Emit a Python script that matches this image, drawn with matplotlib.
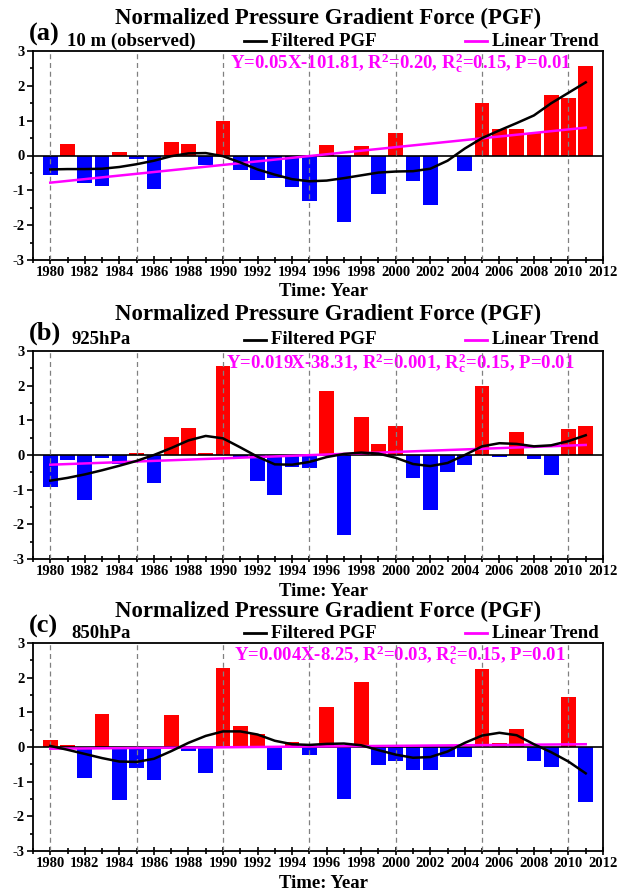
import matplotlib
matplotlib.use("Agg")
import matplotlib.pyplot as plt
from matplotlib.lines import Line2D
from matplotlib.ticker import MultipleLocator

plt.rcParams['font.family'] = 'Liberation Serif'
plt.rcParams['font.weight'] = 'bold'
plt.rcParams['axes.unicode_minus'] = False
plt.rcParams['mathtext.fontset'] = 'custom'
plt.rcParams['mathtext.rm'] = 'Liberation Serif:bold'
plt.rcParams['mathtext.it'] = 'Liberation Serif:bold'
plt.rcParams['mathtext.bf'] = 'Liberation Serif:bold'

years = list(range(1980, 2012))
trend_years = [1980, 2011]

# ---- (a) 10 m observed ----
pgf_10m = [-0.55, 0.33, -0.78, -0.88, 0.10, -0.09, -0.95, 0.38, 0.33, -0.26,
           0.99, -0.41, -0.70, -0.66, -0.90, -1.30, 0.31, -1.90, 0.28, -1.11,
           0.64, -0.74, -1.41, -0.02, -0.44, 1.50, 0.75, 0.77, 0.64, 1.73,
           1.66, 2.56]
filt_10m = [-0.40, -0.39, -0.39, -0.38, -0.33, -0.25, -0.15, -0.02, 0.06, 0.07,
            -0.02, -0.20, -0.40, -0.55, -0.68, -0.74, -0.72, -0.65, -0.57, -0.49,
            -0.46, -0.45, -0.38, -0.15, 0.20, 0.50, 0.72, 0.93, 1.15, 1.50,
            1.80, 2.10]
trend_10m = [-0.78, 0.80]
eq_10m = r"Y=0.05X-101.81, R$^{2}$=0.20, R$_{c}^{2}$=0.15, P=0.01"

# ---- (b) 925 hPa ----
pgf_925 = [-0.91, -0.15, -1.31, -0.09, -0.26, 0.06, -0.82, 0.52, 0.79, 0.06,
           2.56, -0.06, -0.76, -1.14, -0.34, -0.38, 1.86, -2.30, 1.09, 0.31,
           0.83, -0.65, -1.60, -0.48, -0.29, 1.99, -0.06, 0.67, -0.12, -0.57,
           0.76, 0.84]
filt_925 = [-0.74, -0.66, -0.56, -0.44, -0.31, -0.17, 0.00, 0.20, 0.42, 0.55,
            0.48, 0.22, -0.05, -0.27, -0.28, -0.20, -0.06, 0.03, 0.07, 0.04,
            -0.08, -0.26, -0.32, -0.23, 0.00, 0.25, 0.34, 0.32, 0.25, 0.28,
            0.40, 0.57]
trend_925 = [-0.28, 0.29]
eq_925 = r"Y=0.019X-38.31, R$^{2}$=0.001, R$_{c}^{2}$=0.15, P=0.01"

# ---- (c) 850 hPa ----
pgf_850 = [0.19, 0.06, -0.90, 0.95, -1.52, -0.61, -0.96, 0.91, -0.11, -0.75,
           2.29, 0.61, 0.37, -0.66, 0.13, -0.23, 1.14, -1.51, 1.88, -0.52,
           -0.40, -0.65, -0.67, -0.29, -0.30, 2.26, 0.12, 0.51, -0.40, -0.59,
           1.45, -1.59]
filt_850 = [0.03, -0.08, -0.20, -0.32, -0.42, -0.43, -0.34, -0.12, 0.12, 0.32,
            0.45, 0.45, 0.36, 0.18, 0.08, 0.06, 0.09, 0.10, 0.05, -0.09,
            -0.22, -0.31, -0.29, -0.13, 0.12, 0.33, 0.41, 0.34, 0.08, -0.15,
            -0.42, -0.76]
trend_850 = [-0.05, 0.08]
eq_850 = r"Y=0.004X-8.25, R$^{2}$=0.03, R$_{c}^{2}$=0.15, P=0.01"

panel_tags = ["(a)", "(b)", "(c)"]
level_names = ["10 m (observed)", "925hPa", "850hPa"]
title = "Normalized Pressure Gradient Force (PGF)"
legend_names = ["Filtered PGF", "Linear Trend"]

W, H = 617, 891
fig = plt.figure(figsize=(W / 100, H / 100), dpi=100)


def fx(x):
    return x / W


def fy(y):
    return 1 - y / H


MAGENTA = '#ff00ff'

panels = [
    (pgf_10m, filt_10m, trend_10m, eq_10m),
    (pgf_925, filt_925, trend_925, eq_925),
    (pgf_850, filt_850, trend_850, eq_850),
]
# axes top / bottom in pixels, plus title and legend rows
tops = [51, 351, 643]
bottoms = [260, 559, 851]
title_y = [18, 314, 611]
legend_y = [41, 340, 633]
ax_left, ax_right = 33, 603

for i, (vals, filt, trend, eq) in enumerate(panels):
    top, bot = tops[i], bottoms[i]
    ax = fig.add_axes([fx(ax_left), fy(bot), fx(ax_right - ax_left), (bot - top) / H])
    colors = ['#ff0000' if v > 0 else '#0000ff' for v in vals]
    ax.bar(years, vals, width=0.85, color=colors, zorder=2)
    ax.axhline(0, color='black', lw=1.2, zorder=3)
    for yr in range(1980, 2011, 5):
        ax.axvline(yr, color='#808080', ls=(0, (4, 3)), lw=0.9, zorder=4)
    ax.plot(years, filt, color='black', lw=1.8, zorder=6)
    ax.plot(trend_years, trend, color=MAGENTA, lw=1.8, zorder=5)

    ax.set_xlim(1979, 2012)
    ax.set_ylim(-3, 3)
    ax.xaxis.set_major_locator(MultipleLocator(2))
    ax.xaxis.set_minor_locator(MultipleLocator(1))
    ax.yaxis.set_major_locator(MultipleLocator(1))
    ax.yaxis.set_minor_locator(MultipleLocator(0.5))
    ax.tick_params(which='both', top=False, right=False, width=1.2)
    ax.tick_params(axis='x', which='both', direction='inout')
    ax.tick_params(axis='y', which='both', direction='out')
    ax.tick_params(axis='x', which='major', length=6, labelsize=10.5, pad=1)
    ax.tick_params(axis='x', which='minor', length=4)
    ax.tick_params(axis='y', which='major', length=4, labelsize=10.5, pad=2)
    ax.tick_params(axis='y', which='minor', length=2.5)
    for lab in ax.get_xticklabels() + ax.get_yticklabels():
        lab.set_fontweight('bold')
    for sp in ax.spines.values():
        sp.set_linewidth(1.3)

    # regression equation sits under the dashed year guides
    ax.text((400 - ax_left) / (ax_right - ax_left), 1 - 12 / (bot - top), eq,
            transform=ax.transAxes, ha='center', va='center', color=MAGENTA,
            fontsize=13.5, fontweight='bold', zorder=3.5)

    fig.text(fx(328), fy(title_y[i]), title, ha='center', va='center',
             fontsize=16.5, fontweight='bold')
    fig.text(fx(29), fy(legend_y[i] - 7), panel_tags[i], ha='left', va='center',
             fontsize=19, fontweight='bold')
    fig.text(fx(67 if i == 0 else 71), fy(legend_y[i]), level_names[i], ha='left',
             va='center', fontsize=13.5, fontweight='bold')
    for (x0, x1, xt, col, name) in [(244, 266, 271, 'black', legend_names[0]),
                                    (465, 487, 492, MAGENTA, legend_names[1])]:
        fig.add_artist(Line2D([fx(x0), fx(x1)], [fy(legend_y[i]), fy(legend_y[i])],
                              color=col, lw=2, transform=fig.transFigure))
        fig.text(fx(xt), fy(legend_y[i]), name, ha='left', va='center',
                 fontsize=13.5, fontweight='bold')
    fig.text(fx(324), fy(bot + 32), "Time: Year", ha='center', va='center',
             fontsize=13.5, fontweight='bold')

fig.savefig("out.png", dpi=100)
